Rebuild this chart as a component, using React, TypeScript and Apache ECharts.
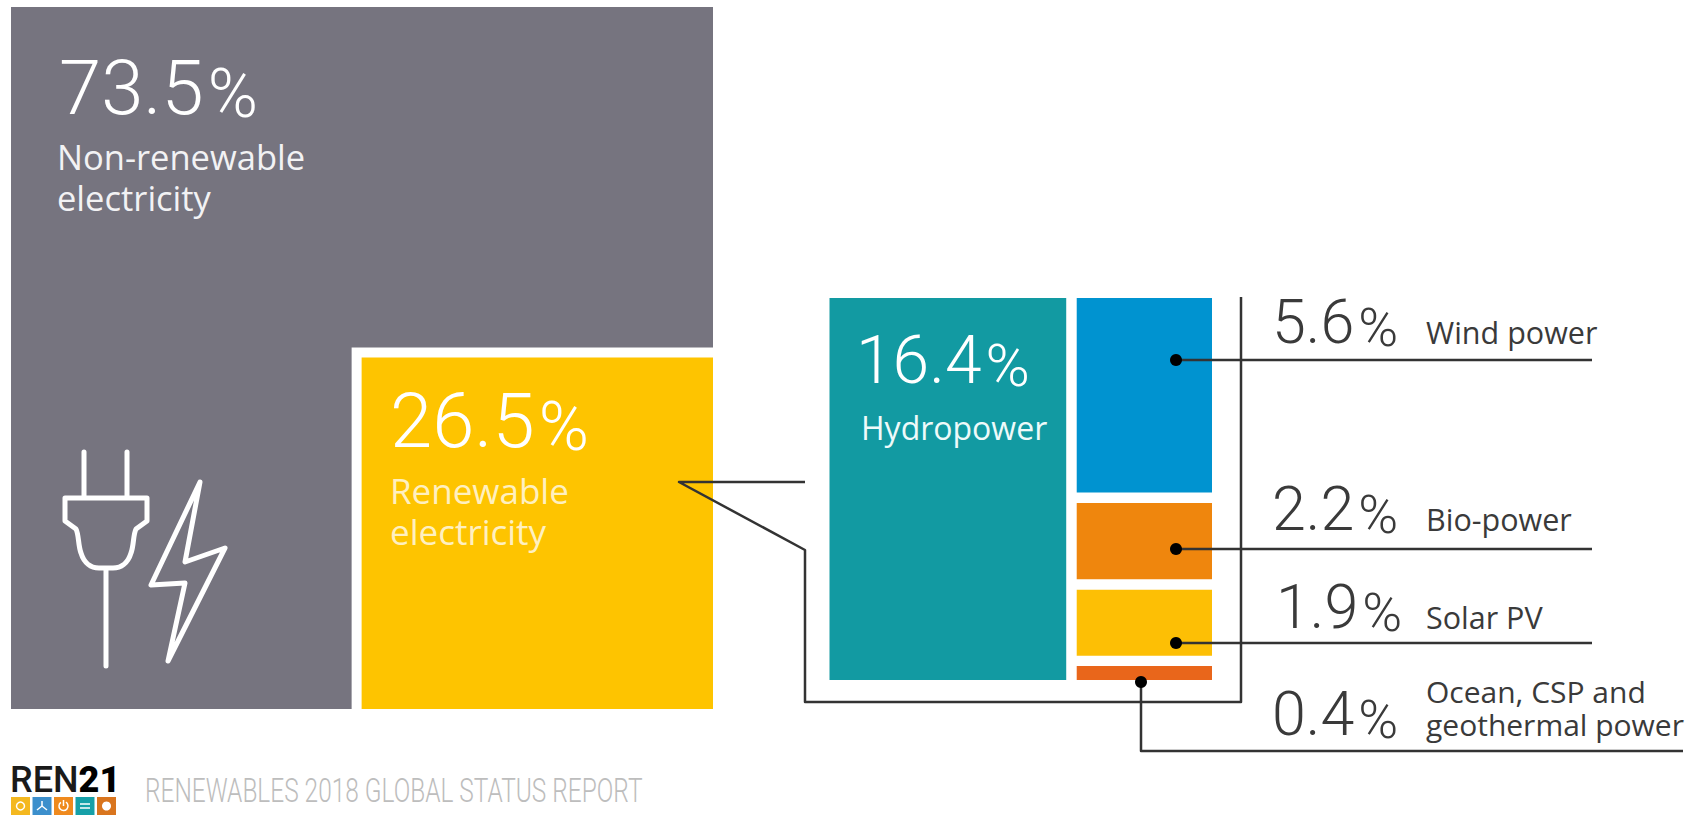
import React, { useEffect, useRef } from "react";
import * as echarts from "echarts";

// Global electricity shares, percent
const mixCategories = ["Non-renewable electricity", "Renewable electricity"];
const mixShares = [73.5, 26.5];
const renewableCategories = ["Hydropower", "Wind power", "Bio-power", "Solar PV", "Ocean, CSP and geothermal power"];
const renewableShares = [16.4, 5.6, 2.2, 1.9, 0.4];

const mixColors = ["#76747f", "#fec400"];
const renewableColors = ["#129aa2", "#0093d0", "#ef860d", "#fdbf05", "#e9661b"];
const badgeColors = ["#f4b81f", "#3c8fcc", "#ef8a1e", "#16a0a8", "#d9751e"];

const NUM_FONT = "Roboto";
const LABEL_FONT = "Open Sans";
const INK = "#3a3a3a";
const RULE = "#333333";

echarts.graphic.registerShape(
  "plugOutline",
  echarts.graphic.extendPath(
    "M65 498H147V521L136 529C133 535 134 545 131 553C128 563 121 568 113 568H99C91 568 84 563 81 553C78 545 79 535 76 529L65 521ZM84 452V497M127 452V497M106 568V666",
    {}
  )
);

// Percent figure with a larger, wide % sign sharing its baseline
function figure(value: number, x: number, baseline: number, size: number, pctSize: number, color: string) {
  return {
    type: "text",
    z: 20,
    x,
    y: baseline + size * 0.26,
    style: {
      text: `{n|${value.toFixed(1)}}{p|%}`,
      verticalAlign: "bottom",
      align: "left",
      rich: {
        n: { fontFamily: NUM_FONT, fontWeight: 300, fontSize: size, fill: color, lineHeight: size * 1.2, padding: [0, 4, 0, 0] },
        p: { fontFamily: NUM_FONT, fontWeight: 300, fontSize: pctSize, fill: color, verticalAlign: "bottom", lineHeight: pctSize * 1.2, padding: [0, 0, size * 0.07, 0] },
      },
    },
  };
}

function caption(text: string, x: number, baseline: number, size: number, color: string, leading = size * 1.2) {
  return {
    type: "text",
    z: 20,
    x,
    y: baseline - size * 0.36 - leading / 2,
    style: { text, fontFamily: LABEL_FONT, fontWeight: 400, fontSize: size, lineHeight: leading, fill: color, verticalAlign: "top", align: "left" },
  };
}

function rule(points: number[][]) {
  return {
    type: "polyline",
    z: 15,
    shape: { points },
    style: { stroke: RULE, lineWidth: 2.5, fill: "none", lineJoin: "round" },
  };
}

function dot(x: number, y: number) {
  return { type: "circle", z: 16, shape: { cx: x, cy: y, r: 6 }, style: { fill: "#000" } };
}

// Side of the renewable square inside the 100-unit square: area equals share
const renewableSide = Math.sqrt(mixShares[1] / 100) * 100;
const SQUARE_GAP_PX = 10;
// Vertical gap between the stacked cells, in axis units
const STACK_GAP = 0.3;
const COLUMN_GAP_PX = 10.5;

function renderMix(params: any, api: any) {
  const idx = params.dataIndex;
  const style = { fill: mixColors[idx] };
  const split = 100 - renewableSide;
  if (idx === 0) {
    const pts = [[0, 0], [100, 0], [100, split], [split, split], [split, 100], [0, 100]].map((p) => api.coord(p));
    return { type: "polygon", shape: { points: pts }, style };
  }
  const a = api.coord([split, split]);
  const b = api.coord([100, 100]);
  return {
    type: "rect",
    shape: { x: a[0] + SQUARE_GAP_PX, y: a[1] + SQUARE_GAP_PX, width: b[0] - a[0] - SQUARE_GAP_PX, height: b[1] - a[1] - SQUARE_GAP_PX },
    style,
  };
}

function renderRenewables(params: any, api: any) {
  const idx = params.dataIndex;
  const value = api.value(1);
  const style = { fill: renewableColors[idx] };
  const hydro = renewableShares[0];
  if (idx === 0) {
    const a = api.coord([0, 0]);
    const b = api.coord([hydro, renewableShares.slice(1).reduce((s, v) => s + v, 0) + 3 * STACK_GAP]);
    return { type: "rect", shape: { x: a[0], y: a[1], width: b[0] - a[0], height: b[1] - a[1] }, style };
  }
  const before = renewableShares.slice(1, idx).reduce((s, v) => s + v, 0) + (idx - 1) * STACK_GAP;
  const a = api.coord([hydro, before]);
  const b = api.coord([mixShares[1], before + value]);
  return {
    type: "rect",
    shape: { x: a[0] + COLUMN_GAP_PX, y: a[1], width: b[0] - a[0] - COLUMN_GAP_PX, height: b[1] - a[1] },
    style,
  };
}

// Small white pictograms on the publisher's coloured badges
function badgeGlyphs(x: number[], cy: number) {
  const white = { stroke: "#fff", fill: "none", lineWidth: 1.5 };
  return [
    { type: "circle", z: 21, shape: { cx: x[0], cy, r: 4 }, style: white },
    { type: "polyline", z: 21, shape: { points: [[x[1], cy - 5], [x[1], cy], [x[1] - 5, cy + 4]] }, style: white },
    { type: "line", z: 21, shape: { x1: x[1], y1: cy, x2: x[1] + 5, y2: cy + 4 }, style: white },
    { type: "arc", z: 21, shape: { cx: x[2], cy, r: 4.5, startAngle: -1, endAngle: 4.1 }, style: white },
    { type: "line", z: 21, shape: { x1: x[2], y1: cy - 6, x2: x[2], y2: cy }, style: white },
    { type: "line", z: 21, shape: { x1: x[3] - 5, y1: cy - 2, x2: x[3] + 5, y2: cy - 2 }, style: white },
    { type: "line", z: 21, shape: { x1: x[3] - 5, y1: cy + 2, x2: x[3] + 5, y2: cy + 2 }, style: white },
    { type: "circle", z: 21, shape: { cx: x[4], cy, r: 4.5 }, style: { fill: "#fff" } },
  ];
}

export default function App() {
  const ref = useRef<HTMLDivElement>(null);

  useEffect(() => {
    document.body.style.margin = "0";
    document.body.style.background = "#fff";
    const chart = echarts.init(ref.current!, undefined, { renderer: "svg" });
    const stackMax = renewableShares.slice(1).reduce((s, v) => s + v, 0) + 3 * STACK_GAP;

    const [wind, bio, solar, ocean] = renewableShares.slice(1);

    const badgeX = badgeColors.map((_, i) => 11 + i * 21.5);
    const badges: any[] = badgeColors.map((c, i) => ({
      type: "rect",
      z: 20,
      shape: { x: badgeX[i], y: 797, width: 19, height: 18 },
      style: { fill: c },
    }));

    chart.setOption({
      animation: false,
      backgroundColor: "#ffffff",
      grid: [
        { left: 11, top: 7, width: 702, height: 702, containLabel: false },
        { left: 829.5, top: 298, width: 382.5, height: 382, containLabel: false },
      ],
      xAxis: [
        { type: "value", gridIndex: 0, min: 0, max: 100, show: false },
        { type: "value", gridIndex: 1, min: 0, max: mixShares[1], show: false },
      ],
      yAxis: [
        { type: "value", gridIndex: 0, min: 0, max: 100, inverse: true, show: false },
        { type: "value", gridIndex: 1, min: 0, max: stackMax, inverse: true, show: false },
      ],
      series: [
        {
          type: "custom",
          name: "Electricity mix",
          xAxisIndex: 0,
          yAxisIndex: 0,
          clip: false,
          silent: true,
          renderItem: renderMix,
          data: mixShares.map((v, i) => ({ name: mixCategories[i], value: [i, v] })),
        },
        {
          type: "custom",
          name: "Renewable breakdown",
          xAxisIndex: 1,
          yAxisIndex: 1,
          clip: false,
          silent: true,
          renderItem: renderRenewables,
          data: renewableShares.map((v, i) => ({ name: renewableCategories[i], value: [i, v] })),
        },
      ],
      graphic: {
        elements: [
          // Figures and captions on the coloured areas
          figure(mixShares[0], 59, 114, 76, 68, "#ffffff"),
          caption("Non-renewable\nelectricity", 57, 169, 34.5, "#f2f2f4", 41),
          figure(mixShares[1], 390, 447, 76, 68, "#ffffff"),
          caption("Renewable\nelectricity", 390, 503, 35, "#fff0c0", 41),
          figure(renewableShares[0], 856, 383, 66, 60, "#ffffff"),
          caption("Hydropower", 861, 439, 32, "#eefafa"),

          // Plug and lightning bolt
          { type: "plugOutline", z: 20, x: 0, y: 0, style: { stroke: "#fff", fill: "none", lineWidth: 5, lineCap: "round", lineJoin: "round" } },
          {
            type: "polygon",
            z: 20,
            shape: { points: [[200, 482], [151, 585], [185, 583], [168, 661], [225, 548], [185, 562]] },
            style: { stroke: "#fff", fill: "none", lineWidth: 5, lineJoin: "round" },
          },

          // Bracket from the renewable square to the breakdown
          rule([[805, 482], [679, 482], [805, 550], [805, 702], [1241, 702], [1241, 297]]),

          // Leaders
          rule([[1176, 360], [1592, 360]]),
          rule([[1176, 549], [1592, 549]]),
          rule([[1176, 643], [1592, 643]]),
          rule([[1141, 682], [1141, 751], [1683, 751]]),
          dot(1176, 360),
          dot(1176, 549),
          dot(1176, 643),
          dot(1141, 682),

          // Leader labels
          figure(wind, 1272, 343, 61, 54, INK),
          caption(renewableCategories[1], 1426, 343, 30.5, INK),
          figure(bio, 1272, 530, 61, 54, INK),
          caption(renewableCategories[2], 1426, 530, 30.5, INK),
          figure(solar, 1276, 628, 61, 54, INK),
          caption(renewableCategories[3], 1426, 628, 30.5, INK),
          figure(ocean, 1272, 735, 61, 54, INK),
          caption("Ocean, CSP and\ngeothermal power", 1426, 702, 30, INK, 33),

          // Publisher footer
          {
            type: "text",
            z: 20,
            x: 10,
            y: 780,
            style: {
              text: "{a|REN}{b|21}",
              verticalAlign: "middle",
              rich: {
                a: { fontFamily: "Roboto", fontWeight: 500, fontSize: 36, fill: "#1a1a1a" },
                b: { fontFamily: "Roboto", fontWeight: 900, fontSize: 36, fill: "#000" },
              },
            },
          },
          ...badges,
          ...badgeGlyphs(badgeX.map((v) => v + 9.5), 806),
          {
            type: "text",
            z: 20,
            x: 145,
            y: 791,
            scaleX: 0.741,
            style: {
              text: "RENEWABLES 2018 GLOBAL STATUS REPORT",
              fontFamily: "Roboto",
              fontWeight: 300,
              fontSize: 33,
              fill: "#bdbdbd",
              verticalAlign: "middle",
            },
          },
        ],
      },
    });

    return () => chart.dispose();
  }, []);

  return <div ref={ref} style={{ width: 1700, height: 815, overflow: "hidden" }} />;
}
